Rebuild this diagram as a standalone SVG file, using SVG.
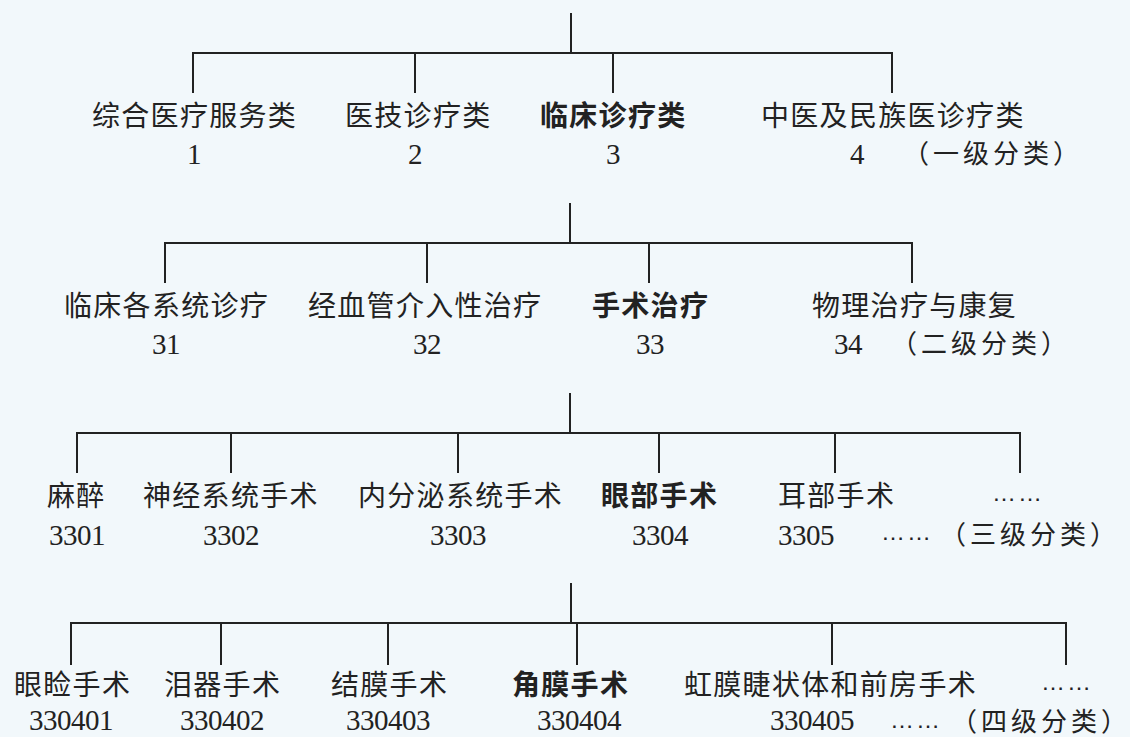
<svg xmlns="http://www.w3.org/2000/svg" width="1130" height="737" viewBox="0 0 1130 737">
<style>
.bg{fill:#f2f8fb}
.ln{stroke:#222;stroke-width:2;fill:none}
.t{font-family:"Noto Sans CJK SC","Liberation Sans",sans-serif;font-size:28px;letter-spacing:1.3px;fill:#222}
.b{font-weight:700}
.n{font-family:"Liberation Serif","Noto Sans CJK SC",serif;font-size:29px;letter-spacing:-0.5px;fill:#222;text-anchor:middle}
.e{font-family:"Liberation Sans","Noto Sans CJK SC",sans-serif;font-size:24px;letter-spacing:2px;fill:#222}
.p{font-family:"Noto Sans CJK SC","Liberation Sans",sans-serif;font-size:26px;letter-spacing:4px;fill:#222}
</style>
<rect class="bg" x="0" y="0" width="1130" height="737"/>
<g id="connectors">
<path class="ln" d="M571 13V53M193 93V53H892V93M415 53V93M613 53V93"/>
<path class="ln" d="M570 203V243M165 283V243H912V283M427 243V283M649 243V283"/>
<path class="ln" d="M570 393V433M77 473V433H1020V473M231 433V473M458 433V473M659 433V473M835 433V473"/>
<path class="ln" d="M571 583V623M71 665V623H1066V665M221 623V665M388 623V665M577 623V665M832 623V665"/>
</g>
<g id="level1">
<g id="n1"><text class="t" x="92" y="126">综合医疗服务类</text><text class="n" x="194" y="164">1</text></g>
<g id="n2"><text class="t" x="345" y="126">医技诊疗类</text><text class="n" x="415" y="164">2</text></g>
<g id="n3"><text class="t b" x="540" y="126">临床诊疗类</text><text class="n" x="613" y="164">3</text></g>
<g id="n4"><text class="t" x="761" y="126">中医及民族医诊疗类</text><text class="n" x="857" y="164">4</text></g>
<text id="lv1" class="p" x="903" y="163">（一级分类）</text>
</g>
<g id="level2">
<g id="n31"><text class="t" x="64" y="316">临床各系统诊疗</text><text class="n" x="166" y="354">31</text></g>
<g id="n32"><text class="t" x="308" y="316">经血管介入性治疗</text><text class="n" x="427" y="354">32</text></g>
<g id="n33"><text class="t b" x="592" y="316">手术治疗</text><text class="n" x="650" y="354">33</text></g>
<g id="n34"><text class="t" x="812" y="316">物理治疗与康复</text><text class="n" x="848" y="354">34</text></g>
<text id="lv2" class="p" x="891" y="353">（二级分类）</text>
</g>
<g id="level3">
<g id="n3301"><text class="t" x="47" y="506">麻醉</text><text class="n" x="77" y="545">3301</text></g>
<g id="n3302"><text class="t" x="143" y="506">神经系统手术</text><text class="n" x="231" y="545">3302</text></g>
<g id="n3303"><text class="t" x="358" y="506">内分泌系统手术</text><text class="n" x="458" y="545">3303</text></g>
<g id="n3304"><text class="t b" x="601" y="506">眼部手术</text><text class="n" x="660" y="545">3304</text></g>
<g id="n3305"><text class="t" x="778" y="506">耳部手术</text><text class="n" x="806" y="545">3305</text></g>
<g id="n33more"><text class="e" x="992" y="501">……</text></g>
<text id="lv3more" class="e" x="881" y="540">……</text>
<text id="lv3" class="p" x="940" y="544">（三级分类）</text>
</g>
<g id="level4">
<g id="n330401"><text class="t" x="14" y="695">眼睑手术</text><text class="n" x="71" y="730">330401</text></g>
<g id="n330402"><text class="t" x="164" y="695">泪器手术</text><text class="n" x="222" y="730">330402</text></g>
<g id="n330403"><text class="t" x="331" y="695">结膜手术</text><text class="n" x="388" y="730">330403</text></g>
<g id="n330404"><text class="t b" x="512" y="695">角膜手术</text><text class="n" x="579" y="730">330404</text></g>
<g id="n330405"><text class="t" x="684" y="695">虹膜睫状体和前房手术</text><text class="n" x="812" y="730">330405</text></g>
<g id="n3304more"><text class="e" x="1041" y="690">……</text></g>
<text id="lv4more" class="e" x="890" y="728">……</text>
<text id="lv4" class="p" x="951" y="731">（四级分类）</text>
</g>
</svg>
